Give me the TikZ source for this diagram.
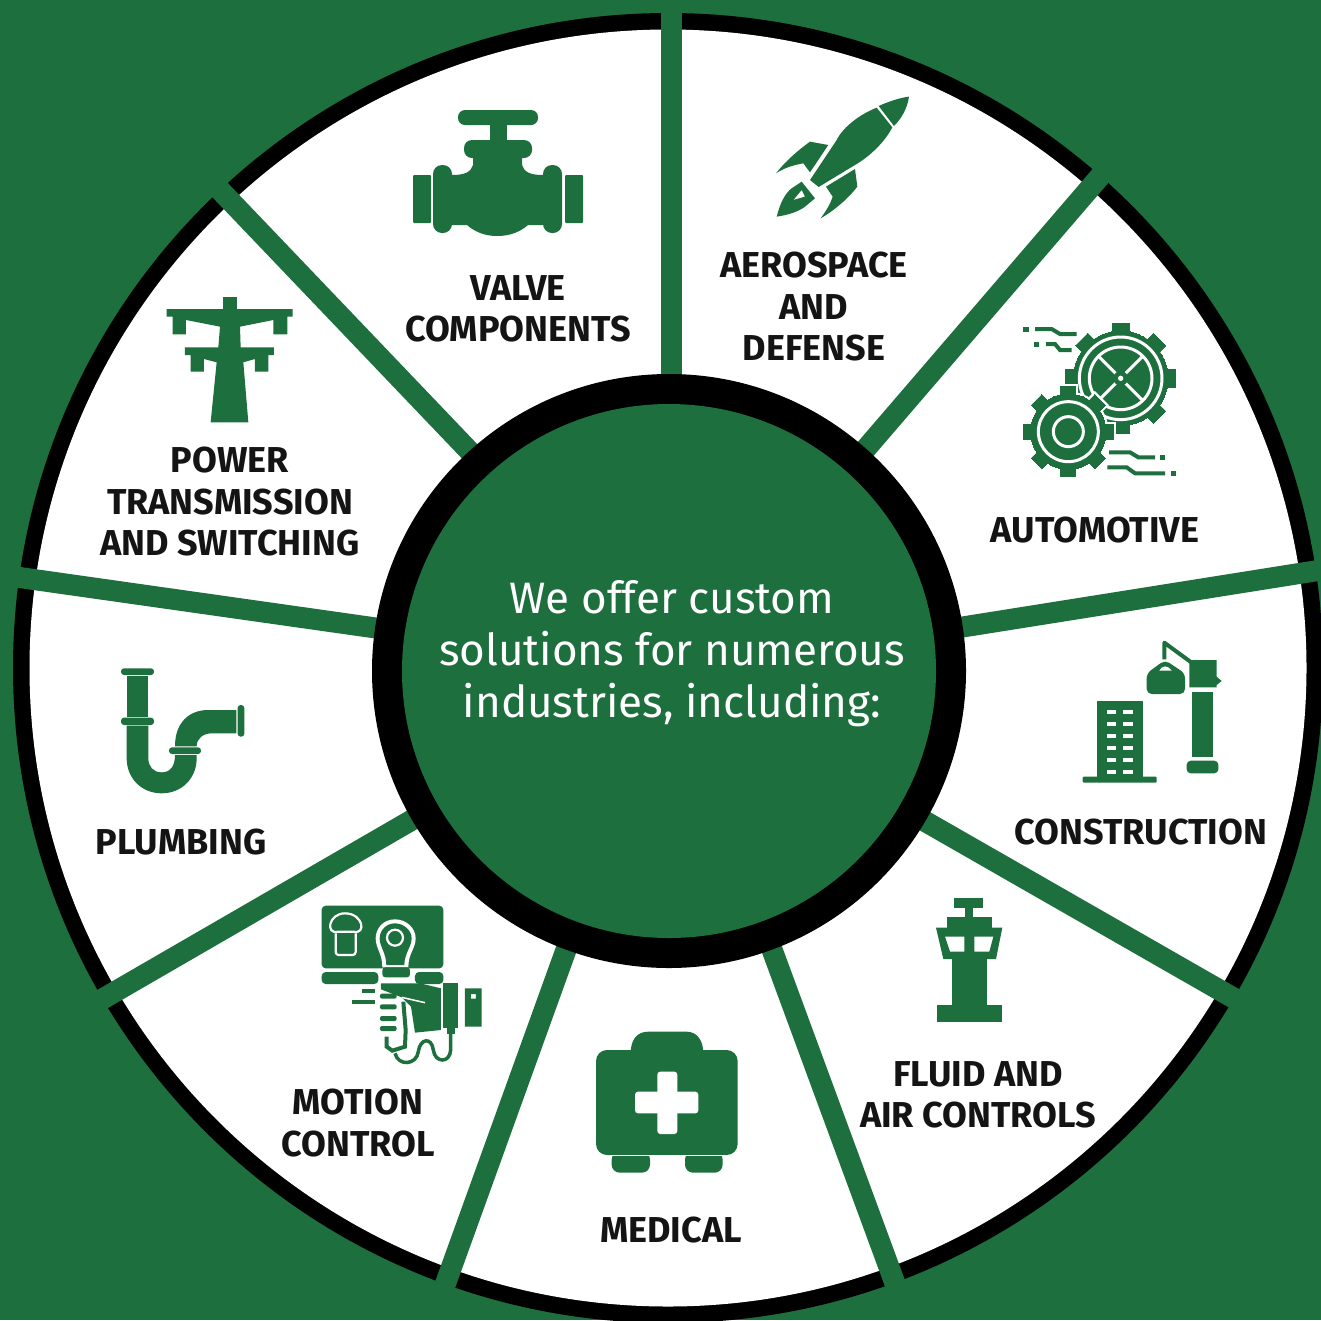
\documentclass[tikz,border=0pt]{standalone}
\usepackage{fontspec}
\setmainfont{Fira Sans}
\definecolor{gr}{HTML}{1D703E}
\definecolor{ink}{HTML}{141414}
\tikzset{
  ic/.style={fill=gr,draw=none},
  hole/.style={fill=white,draw=none},
  wline/.style={draw=white,fill=none},
  gline/.style={draw=gr,fill=none},
  spoke/.style={draw=gr,line width=21pt},
  lab/.style={text=ink,align=center,font=\fontsize{36}{41.5}\selectfont\bfseries,inner sep=0pt},
  icon/.style={scale=0.3333}
}
\newcommand{\gearfill}[7]{% cx cy r R w colour extra
  \foreach \a in {0,45,...,315}{
    \filldraw[#6,line width=#7pt,rotate around={\a:(#1,#2)}] (#1-#5/2,#2-#4) rectangle (#1+#5/2,#2);
  }
  \filldraw[#6,line width=#7pt] (#1,#2) circle (#3);
}
\begin{document}
\begin{tikzpicture}[x=1pt,y=-1pt]
\useasboundingbox (0,0) rectangle (1321,1320);
\clip (0,0) rectangle (1321,1320);
\fill[gr] (0,0) rectangle (1321,1320);
% wheel
\fill[black] (668,668) circle (655);
\fill[white] (668,668) circle (638.5);
\foreach \xa/\ya/\xb/\yb in {671/385/671/-5,857/459/1115/159,950/629/1340/567,914/815/1258/1012,767/936/907/1316,571/936/436/1310,424/813/80/1012,390/630/-5/574,475/457/199/168}{
  \draw[spoke] (\xa,\ya) -- (\xb,\yb);
}
\fill[black] (669,671) circle (297);
\fill[gr] (669,671) circle (267);
% centre text
\node[text=white,align=center,inner sep=0pt,font=\fontsize{44}{52}\selectfont] (centre) at (672,654) {We offer custom\\solutions for numerous\\industries, including:};
% labels
\node[lab] (valve) at (518,309) {VALVE\\COMPONENTS};
\node[lab] (aero) at (814,307) {AEROSPACE\\AND\\DEFENSE};
\node[lab] (auto) at (1095,530) {AUTOMOTIVE};
\node[lab] (constr) at (1141,832) {CONSTRUCTION};
\node[lab] (fluid) at (978,1095) {FLUID AND\\AIR CONTROLS};
\node[lab] (medical) at (671,1230) {MEDICAL};
\node[lab] (motion) at (358,1123) {MOTION\\CONTROL};
\node[lab] (plumb) at (181,842) {PLUMBING};
\node[lab] (power) at (230,502) {POWER\\TRANSMISSION\\AND SWITCHING};
% valve icon
\fill[ic,rounded corners=7pt] (458,110) rectangle (538,125);
\fill[ic] (490,124) rectangle (507,142);
\fill[ic,rounded corners=8pt] (464,140) rectangle (532,158);
\fill[ic] (473,157) -- (522,157) -- (522,165) .. controls (524,172) and (530,175) .. (543,175) -- (543,225) -- (528,225) .. controls (520,232) and (510,236) .. (497,236) .. controls (485,236) and (475,232) .. (467,225) -- (452,225) -- (452,175) .. controls (465,175) and (471,172) .. (473,165) -- cycle;
\fill[ic,rounded corners=9pt] (433,165) rectangle (452,233);
\fill[ic,rounded corners=9pt] (543,165) rectangle (562,233);
\fill[ic,rounded corners=1pt] (413,175) rectangle (431,223);
\fill[ic,rounded corners=1pt] (565,175) rectangle (583,223);
% rocket icon
\begin{scope}[shift={(760,85)},icon]
\fill[ic] (447,35) .. controls (420,38) and (385,50) .. (356,63) -- (402,123) .. controls (425,100) and (442,70) .. (447,35) -- cycle;
\fill[ic] (350,68) .. controls (300,88) and (250,125) .. (230,165) -- (150,285) -- (176,306) -- (280,243) .. controls (330,215) and (375,170) .. (397,127) -- cycle;
\fill[ic] (150,170) -- (205,180) -- (150,262) -- (130,235) .. controls (100,240) and (70,250) .. (48,265) .. controls (75,230) and (115,195) .. (150,170) -- cycle;
\fill[ic] (285,252) -- (292,305) .. controls (265,340) and (225,375) .. (182,400) .. controls (200,375) and (212,355) .. (218,335) -- (198,305) -- cycle;
\fill[ic,even odd rule] (50,395) .. controls (60,355) and (75,325) .. (95,310) -- (125,290) -- (165,340) -- (135,365) .. controls (115,380) and (85,390) .. (50,395) -- cycle
  (100,345) -- (125,315) -- (135,335) -- cycle;
\end{scope}
% gears icon
\begin{scope}[shift={(1010,310)},icon]
\gearfill{332}{205}{142}{165}{52}{gr}{0}
\draw[wline,line width=3pt] (332,205) circle (124);
\draw[wline,line width=3pt] (332,205) circle (94);
\draw[wline,line width=3pt] (266,139) -- (398,271);
\draw[wline,line width=3pt] (266,271) -- (398,139);
\fill[ic] (332,205) circle (22);
\fill[hole] (332,205) circle (8);
\gearfill{175}{365}{113}{135}{45}{white}{5}
\gearfill{175}{365}{113}{135}{45}{gr}{0}
\draw[wline,line width=3pt] (175,365) circle (90);
\draw[wline,line width=3pt] (175,365) circle (45);
\draw[gline,line width=4pt] (75,57) -- (125,57) -- (150,72) -- (200,72);
\draw[gline,line width=4pt] (108,102) -- (135,102) -- (150,120) -- (185,120);
\draw[gline,line width=4pt] (297,427) -- (360,427) -- (385,442) -- (435,442);
\draw[gline,line width=4pt] (292,472) -- (350,472) -- (375,490) -- (465,490);
\fill[ic] (40,50) rectangle (56,65);
\fill[ic] (72,97) rectangle (88,112);
\fill[ic] (450,435) rectangle (466,450);
\fill[ic] (482,483) rectangle (498,497);
\end{scope}
% crane icon
\begin{scope}[shift={(1070,630)},icon]
\fill[ic] (80,213) rectangle (218,442);
\fill[ic,rounded corners=1pt] (38,440) rectangle (260,458);
\foreach \yy in {247,283,318,354,390,426}{
  \fill[hole] (110,\yy-6) rectangle (137,\yy+6);
  \fill[hole] (158,\yy-6) rectangle (188,\yy+6);
}
\fill[ic] (365,185) rectangle (428,380);
\fill[ic,rounded corners=4pt] (350,392) rectangle (445,430);
\fill[ic] (358,90) -- (440,90) -- (440,140) -- (455,153) -- (440,165) -- (440,172) -- (358,172) -- cycle;
\draw[gline,line width=4pt,line join=round] (283,88) -- (283,38) -- (365,98);
\fill[ic,rounded corners=5pt] (230,130) -- (285,90) -- (345,130) -- (345,192) -- (230,192) -- cycle;
\fill[hole] (268,122) .. controls (275,105) and (295,105) .. (305,122) -- cycle;
\end{scope}
% tower icon
\begin{scope}[shift={(910,885)},icon]
\fill[ic] (133,40) rectangle (220,68);
\fill[ic] (165,66) rectangle (190,100);
\fill[ic] (110,97) rectangle (245,130);
\fill[ic,even odd rule] (78,128) -- (277,128) -- (258,222) -- (100,222) -- cycle
  (105,155) -- (163,155) -- (163,200) -- (120,200) -- cycle
  (193,155) -- (250,155) -- (238,200) -- (193,200) -- cycle;
\fill[ic] (125,220) rectangle (232,362);
\fill[ic] (80,360) rectangle (275,412);
\end{scope}
% medical icon
\begin{scope}[shift={(580,1020)},icon]
\fill[ic] (152,100) .. controls (152,60) and (170,35) .. (205,35) -- (320,35) .. controls (350,35) and (370,60) .. (370,100) -- cycle;
\fill[ic,rounded corners=11pt] (48,90) rectangle (473,405);
\fill[hole,rounded corners=3pt] (165,215) rectangle (355,280);
\fill[hole,rounded corners=3pt] (232,155) rectangle (292,342);
\fill[ic,rounded corners=8pt] (95,395) -- (95,458) -- (210,458) -- (210,395) -- cycle;
\fill[ic,rounded corners=8pt] (315,395) -- (315,458) -- (428,458) -- (428,395) -- cycle;
\fill[hole] (90,405) rectangle (435,409);
\end{scope}
% motion control icon
\begin{scope}[shift={(305,890)},icon]
\fill[ic,rounded corners=4pt] (50,47) rectangle (415,235);
\fill[ic,rounded corners=4pt] (50,246) -- (220,246) -- (220,282) -- (50,282) -- cycle;
\fill[ic,rounded corners=4pt] (330,246) -- (415,246) -- (415,282) -- (330,282) -- cycle;
\draw[wline,line width=2.2pt] (100,125) .. controls (60,135) and (70,70) .. (120,70) .. controls (175,70) and (185,135) .. (145,125) -- cycle;
\draw[wline,line width=2.2pt,rounded corners=3pt] (92,130) -- (92,195) -- (152,195) -- (152,130);
\fill[hole] (270,88) .. controls (235,88) and (212,115) .. (212,145) .. controls (212,175) and (232,190) .. (232,232) -- (310,232) .. controls (310,190) and (332,175) .. (332,145) .. controls (332,115) and (305,88) .. (270,88) -- cycle;
\fill[ic] (270,100) .. controls (245,100) and (224,120) .. (224,145) .. controls (224,170) and (244,190) .. (244,225) -- (298,225) .. controls (298,190) and (320,170) .. (320,145) .. controls (320,120) and (295,100) .. (270,100) -- cycle;
\draw[wline,line width=2.2pt] (270,143) circle (24);
\fill[ic,rounded corners=3pt] (232,232) rectangle (315,262);
\fill[ic] (228,280) -- (345,280) -- (408,295) -- (408,420) -- (330,428) -- (318,350) -- (290,322) -- (228,298) -- cycle;
\draw[wline,line width=1.5pt] (290,322) -- (360,338);
\fill[ic,rounded corners=2pt] (225,311) rectangle (275,326);
\fill[ic,rounded corners=2pt] (225,343) rectangle (275,358);
\fill[ic,rounded corners=2pt] (225,378) rectangle (275,393);
\fill[ic,rounded corners=2pt] (225,408) rectangle (275,423);
\draw[gline,line width=4pt] (295,335) -- (302,420) -- (300,470) -- (262,482) -- (245,470) -- (245,440);
\draw[gline,line width=4pt] (172,303) -- (210,303);
\draw[gline,line width=4pt] (140,337) -- (210,337);
\fill[ic] (415,280) rectangle (460,415);
\fill[ic] (425,410) rectangle (450,432);
\fill[ic,even odd rule] (480,295) rectangle (530,410) (498,312) rectangle (513,326);
\draw[gline,line width=3.5pt] (437,430) -- (437,480) .. controls (435,520) and (390,520) .. (385,480) .. controls (380,440) and (345,445) .. (340,485) .. controls (335,525) and (280,530) .. (270,490);
\end{scope}
% plumbing icon
\begin{scope}[shift={(105,655)},icon]
\fill[ic,rounded corners=3pt] (48,40) rectangle (147,60);
\fill[ic] (65,63) rectangle (130,187);
\fill[ic,rounded corners=3pt] (48,188) rectangle (147,210);
\fill[ic] (65,212) -- (130,212) -- (130,310) .. controls (130,335) and (145,352) .. (170,352) .. controls (195,352) and (210,335) .. (210,300) -- (275,300) -- (275,310) .. controls (275,370) and (230,415) .. (170,415) .. controls (110,415) and (65,370) .. (65,310) -- cycle;
\fill[ic,rounded corners=3pt] (192,277) rectangle (288,297);
\fill[ic] (210,274) .. controls (210,205) and (250,165) .. (310,165) -- (394,165) -- (394,235) -- (320,235) .. controls (295,235) and (275,250) .. (275,274) -- cycle;
\fill[ic,rounded corners=3pt] (398,150) rectangle (418,245);
\end{scope}
% power icon
\begin{scope}[shift={(150,285)},icon]
\fill[ic] (218,35) rectangle (260,80);
\fill[ic] (50,72) -- (428,72) -- (428,95) -- (412,95) -- (412,148) -- (370,148) -- (370,105) -- (270,125) -- (272,187) -- (372,187) -- (372,210) -- (355,210) -- (355,260) -- (315,260) -- (315,222) -- (280,232) -- (295,412) -- (182,412) -- (200,232) -- (162,222) -- (162,260) -- (122,260) -- (122,210) -- (105,210) -- (105,187) -- (205,187) -- (210,125) -- (108,105) -- (108,148) -- (68,148) -- (68,95) -- (50,95) -- cycle;
\end{scope}
\end{tikzpicture}
\end{document}
